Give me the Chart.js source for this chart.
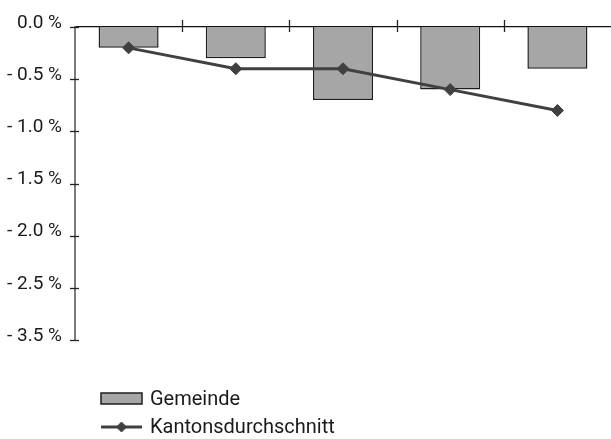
<!DOCTYPE html>
<html>
<head>
<meta charset="utf-8">
<script src="https://cdn.jsdelivr.net/npm/chart.js@4/dist/chart.umd.min.js"></script>
<style>
  html, body { margin: 0; padding: 0; background: #fff; }
  #wrap { width: 611px; height: 439px; }
</style>
</head>
<body>
<div id="wrap"><canvas id="c" width="611" height="439"></canvas></div>
<script>
// Periods (unlabelled on the axis)
const periods = ['1', '2', '3', '4', '5'];
// Change in percent
const gemeinde = [-0.2, -0.3, -0.7, -0.6, -0.4];
const kantonsdurchschnitt = [-0.2, -0.4, -0.4, -0.6, -0.8];
// Value axis ticks and their printed labels
const tickValues = [0, -0.5, -1, -1.5, -2, -2.5, -3];
const tickLabels = ['0.0 %', '- 0.5 %', '- 1.0 %', '- 1.5 %', '- 2.0 %', '- 2.5 %', '- 3.5 %'];
const seriesNames = ['Gemeinde', 'Kantonsdurchschnitt'];

const TEXT = '#1a1a1a';
Chart.defaults.font.family = 'Roboto, "DejaVu Sans", sans-serif';

// Short tick marks that cross both axes
const axisTicks = {
  id: 'axisTicks',
  afterDraw(chart) {
    const { ctx, scales: { x, y } } = chart;
    ctx.save();
    ctx.strokeStyle = '#222';
    ctx.lineWidth = 1.3;
    y.ticks.forEach((t, i) => {
      const py = Math.round(y.getPixelForTick(i)) + 0.5;
      ctx.beginPath();
      ctx.moveTo(x.left - 5, py);
      ctx.lineTo(x.left + 4, py);
      ctx.stroke();
    });
    for (let i = 1; i < x.ticks.length; i++) {
      const px = Math.round((x.getPixelForTick(i - 1) + x.getPixelForTick(i)) / 2) + 0.5;
      ctx.beginPath();
      ctx.moveTo(px, y.top - 7);
      ctx.lineTo(px, y.top + 5);
      ctx.stroke();
    }
    ctx.restore();
  }
};

// Stacked legend below the plot
const stackedLegend = {
  id: 'stackedLegend',
  afterDraw(chart) {
    const { ctx, chartArea } = chart;
    const left = chartArea.left + 26;
    const symW = 41;
    const textX = left + 49;
    const rowY = [chartArea.bottom + 58.5, chartArea.bottom + 87];
    ctx.save();
    ctx.font = '20px Roboto, "DejaVu Sans", sans-serif';
    ctx.textBaseline = 'middle';
    ctx.textAlign = 'left';
    chart.data.datasets.forEach((ds, i) => {
      const cy = rowY[i];
      if (ds.type === 'line') {
        ctx.strokeStyle = ds.borderColor;
        ctx.lineWidth = ds.borderWidth;
        ctx.beginPath();
        ctx.moveTo(left, cy);
        ctx.lineTo(left + symW, cy);
        ctx.stroke();
        ctx.fillStyle = ds.pointBackgroundColor;
        ctx.strokeStyle = ds.pointBorderColor;
        ctx.lineWidth = 1;
        Chart.helpers.drawPoint(ctx, { pointStyle: 'rectRot', radius: 5, rotation: 0, borderWidth: 1 }, left + symW / 2, cy);
      } else {
        ctx.fillStyle = ds.backgroundColor;
        ctx.fillRect(left, cy - 5.5, symW, 11);
        ctx.strokeStyle = ds.borderColor;
        ctx.lineWidth = 1.5;
        ctx.strokeRect(left, cy - 5.5, symW, 11);
      }
      ctx.fillStyle = TEXT;
      ctx.fillText(ds.label, textX, cy + 1);
    });
    ctx.restore();
  }
};

new Chart(document.getElementById('c'), {
  type: 'bar',
  data: {
    labels: periods,
    datasets: [
      {
        type: 'bar',
        label: seriesNames[0],
        data: gemeinde,
        backgroundColor: '#a6a6a6',
        borderColor: '#1e1e1e',
        borderWidth: 1.5,
        barPercentage: 0.56,
        categoryPercentage: 1,
        order: 1
      },
      {
        type: 'line',
        label: seriesNames[1],
        data: kantonsdurchschnitt,
        borderColor: '#404040',
        borderWidth: 3,
        pointStyle: 'rectRot',
        pointRadius: 6,
        pointBackgroundColor: '#404040',
        pointBorderColor: '#404040',
        pointBorderWidth: 1,
        tension: 0,
        order: 0
      }
    ]
  },
  options: {
    responsive: false,
    animation: false,
    devicePixelRatio: 1,
    layout: { autoPadding: false, padding: { left: 0, right: 0, top: 0, bottom: 99 } },
    plugins: {
      legend: { display: false },
      tooltip: { enabled: false }
    },
    scales: {
      x: {
        position: 'top',
        offset: true,
        grid: { display: false, drawTicks: false },
        border: { display: true, color: '#111', width: 1.3 },
        ticks: { display: false },
        afterFit(s) { s.height = 27; }
      },
      y: {
        min: -3,
        max: 0,
        grid: { display: false, drawTicks: false },
        border: { display: true, color: '#7a7a7a', width: 2 },
        ticks: {
          stepSize: 0.5,
          autoSkip: false,
          padding: 13,
          labelOffset: -4,
          color: TEXT,
          font: { size: 19 },
          callback(value) {
            const i = tickValues.findIndex(v => Math.abs(v - value) < 1e-9);
            return i >= 0 ? tickLabels[i] : '';
          }
        },
        afterFit(s) { s.width = 75; }
      }
    }
  },
  plugins: [axisTicks, stackedLegend]
});
</script>
</body>
</html>
